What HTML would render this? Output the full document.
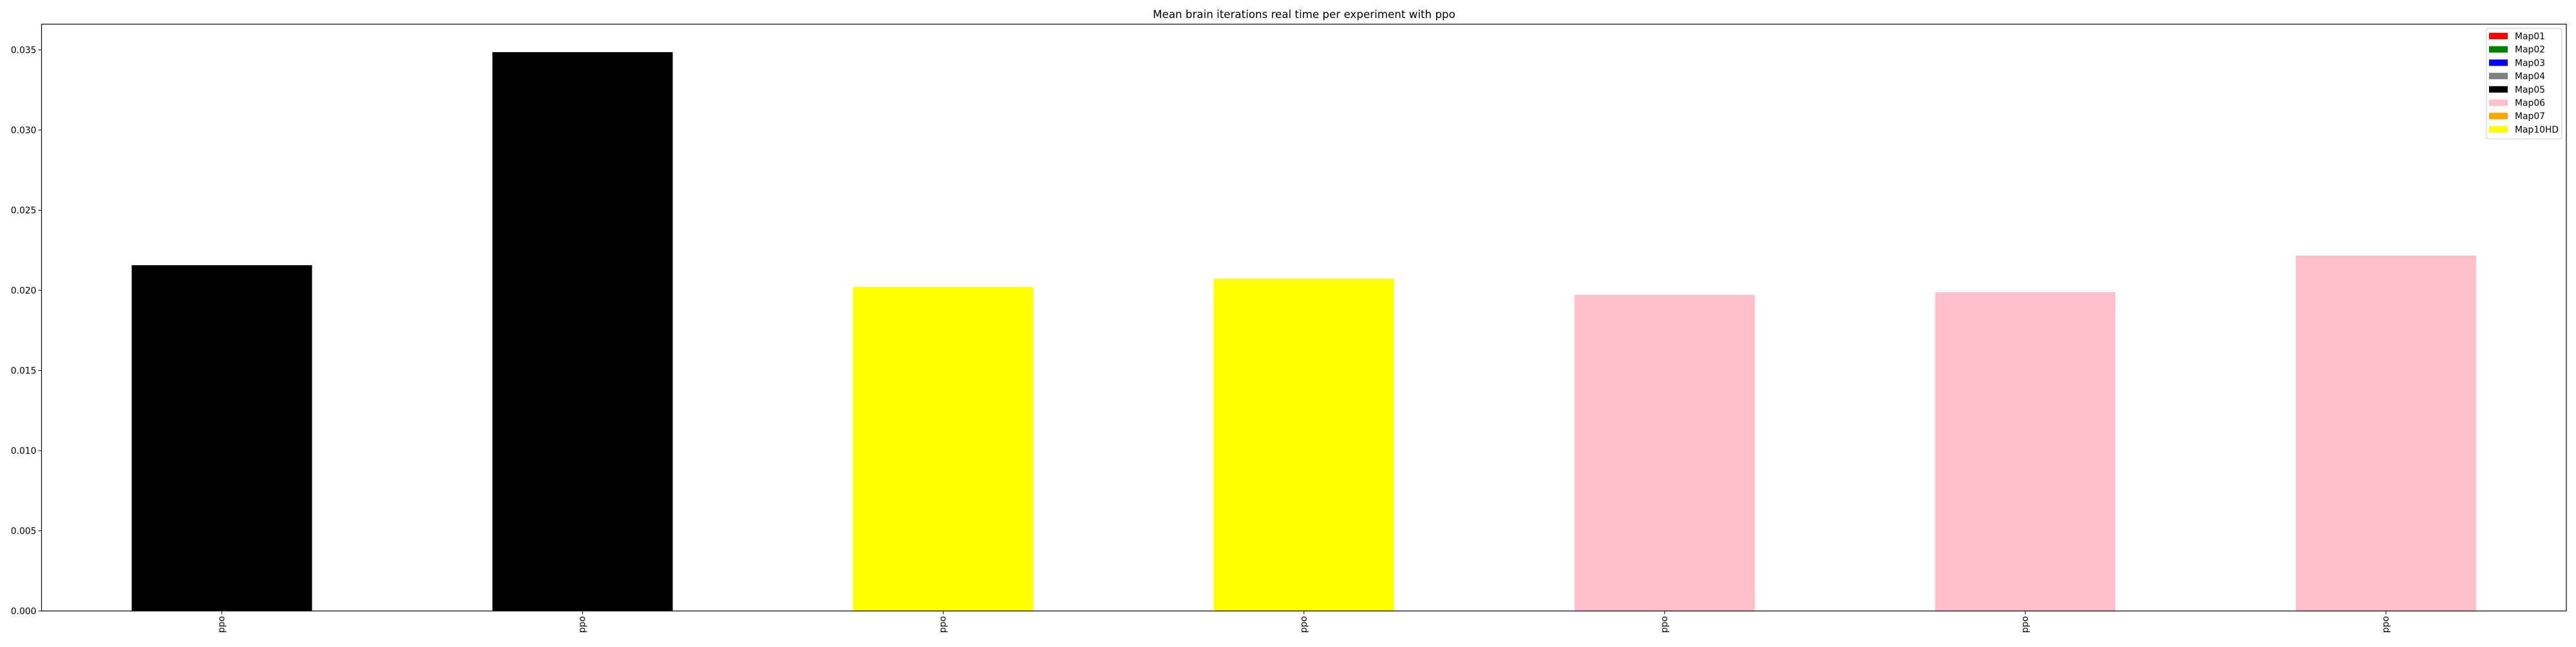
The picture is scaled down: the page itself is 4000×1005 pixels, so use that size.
<!DOCTYPE html>
<html><head><meta charset="utf-8"><style>
body{margin:0;background:#fff}
svg text{font-family:"DejaVu Sans","Liberation Sans",sans-serif;fill:#000}
</style></head><body>
<svg id="chart" width="4000" height="1000" xmlns="http://www.w3.org/2000/svg">
<rect width="4000" height="1000" fill="#fff"/>
<text x="2025" y="28" font-size="16.7" text-anchor="middle">Mean brain iterations real time per experiment with ppo</text>
<g id="bars"></g><g id="axes"></g><g id="legend"></g>
</svg>
<script>
const categories = ["ppo","ppo","ppo","ppo","ppo","ppo","ppo"];
const values = [0.02157, 0.03486, 0.0202, 0.02072, 0.01972, 0.01988, 0.02217];
const barMaps = ["Map05","Map05","Map10HD","Map10HD","Map06","Map06","Map06"];
const yTicks = [0, 0.005, 0.010, 0.015, 0.020, 0.025, 0.030, 0.035];
const yTickLabels = ["0.000","0.005","0.010","0.015","0.020","0.025","0.030","0.035"];
const legendNames = ["Map01","Map02","Map03","Map04","Map05","Map06","Map07","Map10HD"];
const legendColors = ["red","green","blue","gray","black","pink","orange","yellow"];

const NS="http://www.w3.org/2000/svg";
const L=64.5,R=3985,T=37.5,B=949;
const yScale=v=>B-(v/0.035)*(B-77.5);
const unit=(R-L)/categories.length;
const xScale=i=>L+unit*(i+0.5);
function mk(tag,attrs,parent){const e=document.createElementNS(NS,tag);for(const k in attrs)e.setAttribute(k,attrs[k]);parent.appendChild(e);return e;}
const bars=document.getElementById('bars'),axes=document.getElementById('axes'),leg=document.getElementById('legend');
const colorOf=m=>legendColors[legendNames.indexOf(m)];
values.forEach((v,i)=>{
  const r=mk('rect',{x:xScale(i)-unit/4,y:yScale(v),width:unit/2,height:B-yScale(v),fill:colorOf(barMaps[i])},bars);
  
  
  const t=mk('line',{x1:xScale(i),x2:xScale(i),y1:B,y2:B+5,stroke:'#000','stroke-width':1},axes);
  
  
  const lb=mk('text',{x:0,y:0,'font-size':13.9,'text-anchor':'end','dominant-baseline':'central',transform:`translate(${xScale(i)},${B+8}) rotate(-90)`},axes);
  lb.textContent=categories[i];
  
  
});
yTicks.forEach((v,i)=>{
  const t=mk('line',{x1:L-5,x2:L,y1:yScale(v),y2:yScale(v),stroke:'#000','stroke-width':1},axes);
  
  
  const lb=mk('text',{x:L-8,y:yScale(v)+5,'font-size':13.9,'text-anchor':'end'},axes);
  lb.textContent=yTickLabels[i];
  
  
});
const frame=mk('rect',{x:L,y:T,width:R-L,height:B-T,fill:'none',stroke:'#000','stroke-width':1.2},axes);


const box=mk('rect',{x:3861,y:44,width:117,height:172,rx:3,fill:'#fff','fill-opacity':0.8,stroke:'#ccc','stroke-width':1},leg);


legendNames.forEach((n,i)=>{
  const y=56+i*20.7;
  const p=mk('rect',{x:3865,y:y-5,width:29,height:10,fill:legendColors[i]},leg);
  
  
  const t=mk('text',{x:3905,y:y+5,'font-size':13.9},leg);
  t.textContent=n;
  
  
});
</script>
</body></html>
